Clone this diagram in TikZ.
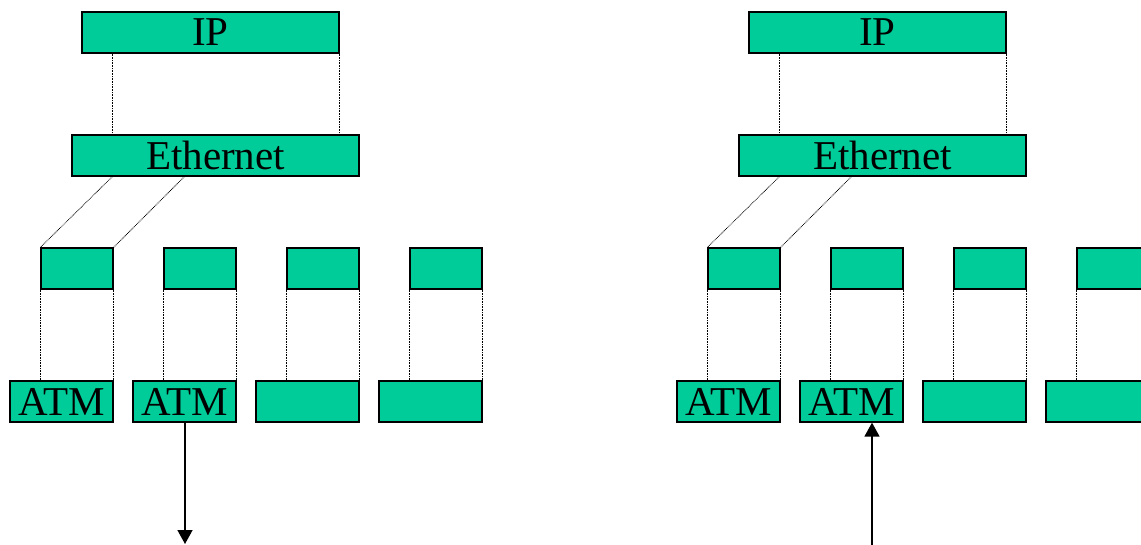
\documentclass[tikz,border=0pt]{standalone}
\usepackage{fontspec}
\setmainfont{Liberation Serif}
\usetikzlibrary{positioning,arrows.meta}
\definecolor{cellgreen}{RGB}{0,204,153}

\begin{document}
\begin{tikzpicture}[
  x=1pt, y=-1pt,
  layer/.style={rectangle, draw, line width=1.3pt, fill=cellgreen, inner sep=0pt,
    minimum height=41pt, font=\fontsize{41}{41}\selectfont},
  iplayer/.style={layer, minimum width=257pt},
  ethlayer/.style={layer, minimum width=287pt},
  cell/.style={layer, minimum width=72pt},
  atm/.style={layer, minimum width=103pt},
  link/.style={dash pattern=on 0.8pt off 0.8pt, line width=0.8pt},
  flow/.style={line width=1.6pt, -{Triangle[width=15pt,length=14pt]}}
]

\clip (0,0) rectangle (1141,545);

\foreach \s/\dx in {a/0, b/667} {
  % IP layer
  \node[iplayer] (ip\s) at (210.5+\dx,32.5) {IP};

  % Ethernet layer
  \node[ethlayer] (eth\s) at (215.5+\dx,155.5) {Ethernet};

  % Cells and ATM frames
  \foreach \i/\cx/\lbl in {1/77/ATM, 2/200/ATM, 3/323/{}, 4/446/{}} {
    \node[cell] (cell\s\i) at (\cx+\dx,268.5) {};
    \node[atm] (atm\s\i) at (\cx-15.5+\dx,401.5) {\lbl};
    \draw[link] (cell\s\i.south west) -- (cell\s\i.south west |- atm\s\i.north);
    \draw[link] (cell\s\i.south east) -- (atm\s\i.north east);
  }

  % Mapping lines
  \draw[link] ([xshift=31pt]ip\s.south west) -- ([xshift=41pt]eth\s.north west);
  \draw[link] (ip\s.south east) -- (ip\s.south east |- eth\s.north);
  \draw[link] ([xshift=41pt]eth\s.south west) -- (cell\s1.north west);
  \draw[link] ([xshift=113pt]eth\s.south west) -- (cell\s1.north east);
}

% Outgoing and incoming cells
\coordinate (sinka) at (185,544);
\draw[flow] (sinka |- atma2.south) -- (sinka);

\coordinate (srcb) at (872,545);
\draw[flow] (srcb) -- (srcb |- atmb2.south);

\end{tikzpicture}
\end{document}
